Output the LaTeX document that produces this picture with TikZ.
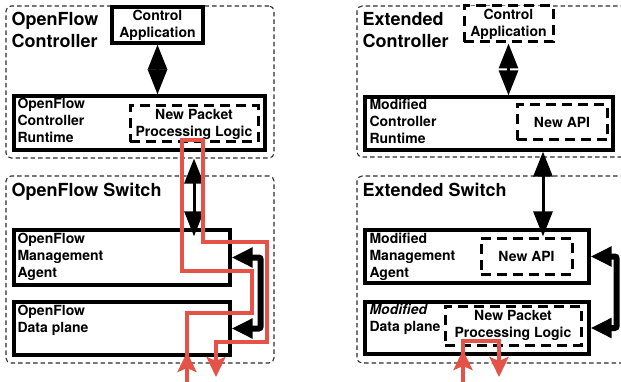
\documentclass[tikz,border=0pt]{standalone}
\usepackage{fontspec}
\setmainfont{TeX Gyre Heros}
\usetikzlibrary{arrows.meta,positioning}
\definecolor{flowred}{RGB}{228,82,72}
\definecolor{groupgray}{RGB}{45,45,45}

\begin{document}
\begin{tikzpicture}[x=1pt,y=-1pt,
    group/.style={draw=groupgray,line width=1.1pt,dash pattern=on 4.5pt off 3pt,
                  rounded corners=5pt,inner sep=0pt},
    block/.style={draw,fill=white,line width=3.3pt,inner sep=0pt},
    newblock/.style={draw,line width=3pt,dash pattern=on 10pt off 6pt,inner sep=0pt,
                     align=center,font=\bfseries\fontsize{14}{17}\selectfont},
    title/.style={inner sep=0pt,align=left,anchor=north west,
                  font=\bfseries\fontsize{18}{21.5}\selectfont},
    lbl/.style={inner sep=0pt,align=left,anchor=north west,
                font=\bfseries\fontsize{14}{16.7}\selectfont},
    link/.style={line width=3pt,<->,>={Triangle[width=19pt,length=25pt]}},
    bracket/.style={line width=6pt,rounded corners=2pt,<->,
                    >={Triangle[width=19pt,length=21pt]}},
    flow/.style={draw=flowred,line width=3.6pt,
                 >={Stealth[width=19pt,length=20pt,inset=4pt]}}]

  \clip (0,0) rectangle (621,382);

  % OpenFlow side
  \node[group,minimum width=268pt,minimum height=152pt] (ctrlL) at (140,82) {};
  \node[group,minimum width=268pt,minimum height=187pt] (swL) at (140,269.5) {};
  \node[title] (ctrlLtitle) at ([shift={(6,7)}]ctrlL.north west) {OpenFlow\\Controller};
  \node[title] (swLtitle) at ([shift={(6,7)}]swL.north west) {OpenFlow Switch};

  \node[block,minimum width=91pt,minimum height=36pt,align=center,
        font=\bfseries\fontsize{14}{17}\selectfont] (appL) at (157.5,25) {Control\\Application};
  \node[block,minimum width=251pt,minimum height=54pt] (rtL) at (139.5,123) {};
  \node[newblock,minimum width=128pt,minimum height=36pt] (nppL) at (194,124) {New Packet\\Processing Logic};
  \node[block,minimum width=216pt,minimum height=55pt] (maL) at (122,257.5) {};
  \node[block,minimum width=216pt,minimum height=53pt] (dpL) at (122,328.5) {};

  \node[lbl] (rtLtxt) at ([shift={(5,4)}]rtL.north west) {OpenFlow\\Controller\\Runtime};
  \node[lbl] (maLtxt) at ([shift={(5,5)}]maL.north west) {OpenFlow\\Management\\Agent};
  \node[lbl] (dpLtxt) at ([shift={(5,4.5)}]dpL.north west) {OpenFlow\\Data plane};

  % Extended side
  \node[group,minimum width=273pt,minimum height=151pt] (ctrlR) at (493.5,81.5) {};
  \node[group,minimum width=273pt,minimum height=187pt] (swR) at (493.5,269.5) {};
  \node[title] (ctrlRtitle) at ([shift={(6,7)}]ctrlR.north west) {Extended\\Controller};
  \node[title] (swRtitle) at ([shift={(6,7)}]swR.north west) {Extended Switch};

  \node[newblock,fill=white,minimum width=89pt,minimum height=36pt] (appR) at (508.5,24) {Control\\Application};
  \node[block,minimum width=248pt,minimum height=53pt] (rtR) at (489,123.5) {};
  \node[newblock,minimum width=90pt,minimum height=35pt] (apiR) at (562,122.5) {New API};
  \node[block,minimum width=224pt,minimum height=53pt] (maR) at (477,256.5) {};
  \node[newblock,minimum width=91pt,minimum height=36pt] (apiM) at (526.5,256) {New API};
  \node[block,minimum width=224pt,minimum height=52pt] (dpR) at (477,328) {};
  \node[newblock,minimum width=136pt,minimum height=39pt] (nppR) at (513,325.5) {New Packet\\Processing Logic};

  \node[lbl] (rtRtxt) at ([shift={(6,4)}]rtR.north west) {Modified\\Controller\\Runtime};
  \node[lbl] (maRtxt) at ([shift={(6,5)}]maR.north west) {Modified\\Management\\Agent};
  \node[lbl] (dpRtxt) at ([shift={(6,4)}]dpR.north west) {\textit{Modified}\\Data plane};

  % control channels
  \draw[link] (appL.south) -- (appL.south |- rtL.north);
  \draw[link] (ctrlL.south -| nppL) -- ([yshift=-8pt]maL.north -| nppL);
  \draw[link] (appR.south) -- (appR.south |- rtR.north);
  \draw[link] ([xshift=54pt]rtR.south) -- ([xshift=54pt,yshift=-8pt]rtR.south |- maR.north);
  \draw[bracket] (maL.east) -- ++(29,0) |- (dpL.east);
  \draw[bracket] (maR.east) -- ++(26,0) |- (dpR.east);

  % packet paths
  \coordinate (inL) at (187,382);
  \coordinate (outL) at (216,377);
  \coordinate (inR) at (463,382);
  \coordinate (outR) at (499,377);
  \draw[flow,->] (inL) -- (187,313) -| (252,271) -| (182,140) -| (203,242) -| (267,342) -| (outL);
  \draw[flow,->] (inL) -- (187,352);
  \draw[flow,->] (inR) |- (499,341) -- (outR);
  \draw[flow,->] (inR) -- (463,350);
\end{tikzpicture}
\end{document}
